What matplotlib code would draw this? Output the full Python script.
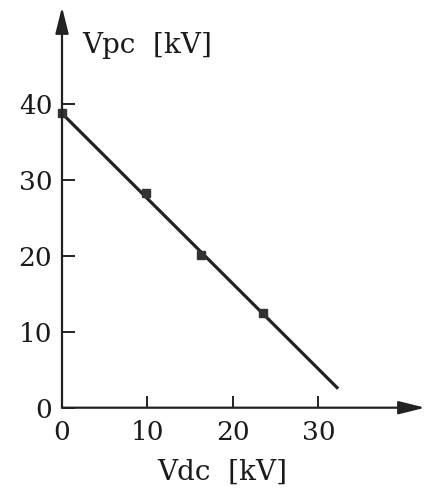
import numpy as np
import matplotlib.pyplot as plt

# measured points
vdc = [0.0, 9.8, 16.3, 23.5]
vpc = [38.7, 28.2, 20.1, 12.4]

# straight line through the points
fit_vdc = [0.0, 32.3]
fit_vpc = [38.7, 2.5]

xticks = [0, 10, 20, 30]
yticks = [0, 10, 20, 30, 40]

plt.rcParams['font.family'] = 'DejaVu Serif'

W, H = 425, 494
fig = plt.figure(figsize=(W / 100, H / 100), dpi=100)
ax = fig.add_axes([62 / W, 86.3 / H, 363 / W, 400.7 / H])
ax.set_xlim(0, 42.46)
ax.set_ylim(0, 52.7)

for s in ax.spines.values():
    s.set_visible(False)

# axes with arrow heads
arrow = dict(arrowstyle='-|>,head_length=1.6,head_width=0.4', lw=1.6,
             color='#222222', mutation_scale=10, shrinkA=0, shrinkB=0)
ax.annotate('', xy=(42.46, 0), xytext=(0, 0), arrowprops=arrow,
            annotation_clip=False)
ax.annotate('', xy=(0, 52.7), xytext=(0, 0), arrowprops=arrow,
            annotation_clip=False)

ax.plot(fit_vdc, fit_vpc, color='#222222', lw=2.3, clip_on=False,
        solid_capstyle='butt')
ax.plot(vdc, vpc, 's', color='#333333', ms=5.5, clip_on=False)

ax.set_xticks(xticks)
ax.set_yticks(yticks)
ax.tick_params(direction='in', length=9, width=1.4, color='#222222',
               labelsize=19, labelcolor='#1a1a1a')
ax.tick_params(axis='x', pad=9)
ax.tick_params(axis='y', pad=7)
for lab in ax.get_xticklabels() + ax.get_yticklabels():
    lab.set_fontweight('medium')

fig.text(82 / W, 1 - 53 / H, 'Vpc  [kV]', fontsize=20, color='#1a1a1a',
         va='baseline', ha='left', fontweight='medium')
fig.text(222 / W, 1 - 480 / H, 'Vdc  [kV]', fontsize=20, color='#1a1a1a',
         va='baseline', ha='center', fontweight='medium')

fig.savefig('out.png', dpi=100, facecolor='white')
